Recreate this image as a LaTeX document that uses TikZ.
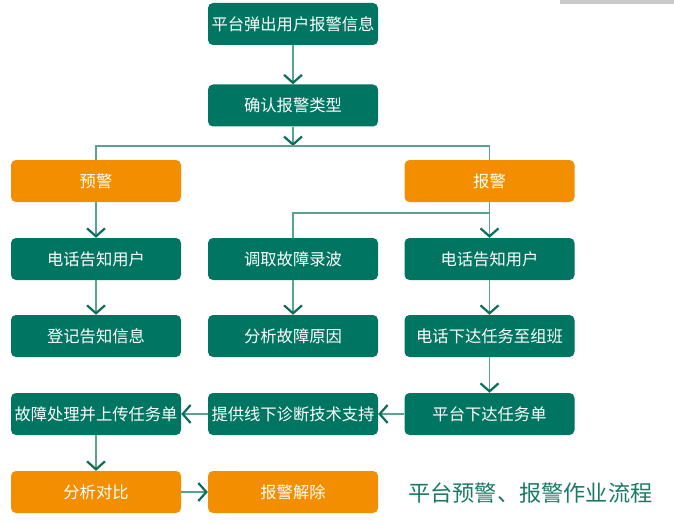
\documentclass[tikz,border=0pt]{standalone}
\usepackage{fontspec}
\newfontfamily\cjk{Noto Sans CJK SC}
\usetikzlibrary{arrows.meta}
\definecolor{boxteal}{HTML}{007562}
\definecolor{boxorange}{HTML}{F28E00}
\definecolor{lineteal}{HTML}{5AA393}
\definecolor{tipteal}{HTML}{0B6E5C}
\definecolor{titleteal}{HTML}{1A7A66}
\definecolor{bargray}{HTML}{C8C8C8}
\tikzset{
  stepbox/.style={draw=none, rounded corners=5pt, minimum width=170pt, minimum height=42pt,
    inner sep=0pt, text=white, font=\cjk\fontsize{16.3}{19}\selectfont, anchor=center},
  tealbox/.style={stepbox, fill=boxteal},
  orangebox/.style={stepbox, fill=boxorange},
  conn/.style={draw=lineteal, line width=1.4pt},
  arr/.style={conn, -{Straight Barb[length=8pt,width=18pt,line width=2.2pt,color=tipteal]}},
}
\begin{document}
\begin{tikzpicture}[x=1pt,y=-1pt]
\useasboundingbox (0,0) rectangle (674,524);
\fill[bargray] (560,0) rectangle (674,3.7);
% row 1-2
\node[tealbox] (top) at (293,24) {平台弹出用户报警信息};
\node[tealbox] (type) at (293,105.5) {确认报警类型};
% row 3
\node[orangebox] (pre) at (96,181) {预警};
\node[orangebox] (alarm) at (489.5,181) {报警};
% row 4
\node[tealbox] (callL) at (96,259) {电话告知用户};
\node[tealbox] (fetch) at (293,259) {调取故障录波};
\node[tealbox] (callR) at (489.5,259) {电话告知用户};
% row 5
\node[tealbox] (log) at (96,336) {登记告知信息};
\node[tealbox] (analy) at (293,336) {分析故障原因};
\node[tealbox] (phone) at (489.5,336) {电话下达任务至组班};
% row 6
\node[tealbox] (handle) at (96,414) {故障处理并上传任务单};
\node[tealbox] (support) at (293,414) {提供线下诊断技术支持};
\node[tealbox] (task) at (489.5,414) {平台下达任务单};
% row 7
\node[orangebox] (comp) at (96,492) {分析对比};
\node[orangebox] (clear) at (293,492) {报警解除};
\node[text=titleteal, font=\cjk\fontsize{22.2}{25}\selectfont, anchor=west, inner sep=0pt] (title) at (408,493) {平台预警、报警作业流程};

\coordinate (split) at (293,146);
\coordinate (splitL) at (96,146);
\coordinate (splitR) at (489.5,146);
\coordinate (fork) at (489.5,213);
\coordinate (forkL) at (293,213);

\draw[arr] (top) -- (type);
\draw[arr] (type) -- (split);
\draw[conn] (pre.north) -- (splitL) -- (splitR) -- (alarm.north);
\draw[arr] (pre) -- (callL);
\draw[conn] (alarm.south) -- (fork) -- (forkL) -- (fetch.north);
\draw[arr] (fork) -- (callR);
\draw[arr] (callL) -- (log);
\draw[arr] (fetch) -- (analy);
\draw[arr] (callR) -- (phone);
\draw[arr] (phone) -- (task);
\draw[arr] (task) -- (support);
\draw[arr] (support) -- (handle);
\draw[arr] (handle) -- (comp);
\draw[arr] (comp) -- (clear);
\end{tikzpicture}
\end{document}
